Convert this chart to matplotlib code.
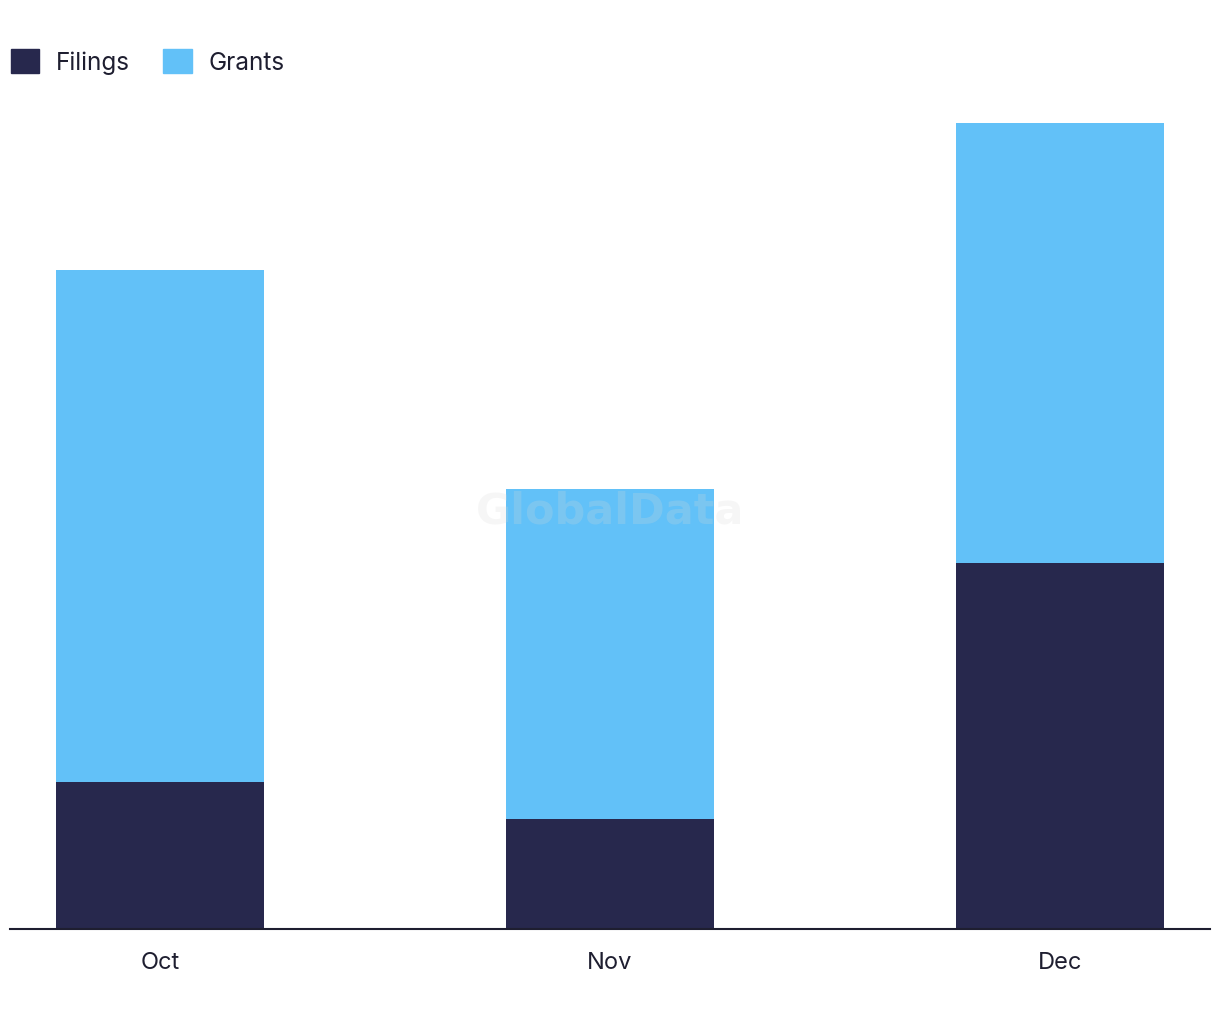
import numpy as np
import matplotlib.pyplot as plt
from matplotlib.patches import Patch

# data
months = ["Oct", "Nov", "Dec"]
filings = [4, 3, 10]
grants = [14, 9, 12]

dark = "#27284d"
light = "#62c1f8"
text_col = "#1e1e30"

plt.rcParams['font.family'] = ['Inter', 'DejaVu Sans']

fig = plt.figure(figsize=(12.2, 10.2), dpi=100)
# axes box in figure pixels: x 10..1210, y 930 (bottom) .. 100 (top)
W, H = 1220, 1020
ax = fig.add_axes([10 / W, (H - 930) / H, 1200 / W, 830 / H])

x = np.arange(len(months))
bw = 208 / 450
ax.bar(x, filings, width=bw, color=dark, label="Filings")
ax.bar(x, grants, width=bw, bottom=filings, color=light, label="Grants")

ax.set_xlim(-150 / 450, 2 + 150 / 450)
ax.set_ylim(0, 22 * 830 / 806)

for s in ["top", "right", "left"]:
    ax.spines[s].set_visible(False)
ax.spines["bottom"].set_color(text_col)
ax.spines["bottom"].set_linewidth(1.5)
ax.set_yticks([])
ax.set_xticks(x)
ax.set_xticklabels(months, fontsize=17, color=text_col)
ax.tick_params(axis="x", length=0, pad=16)

handles = [Patch(color=dark), Patch(color=light)]
fig.legend(handles, ["Filings", "Grants"], loc="upper left",
           bbox_to_anchor=(-11 / W, 1 - 28 / H), ncol=2, frameon=False,
           fontsize=17.5, handlelength=1.17, handleheight=1.17,
           handletextpad=0.7, columnspacing=1.35, labelcolor=text_col)

# watermark
fig.text(610 / W, 1 - 512 / H, "GlobalData", ha="center", va="center",
         fontsize=31, fontweight="bold", color="#d8d8d8", alpha=0.22,
         family="DejaVu Sans")

fig.savefig("out.png", dpi=100)
